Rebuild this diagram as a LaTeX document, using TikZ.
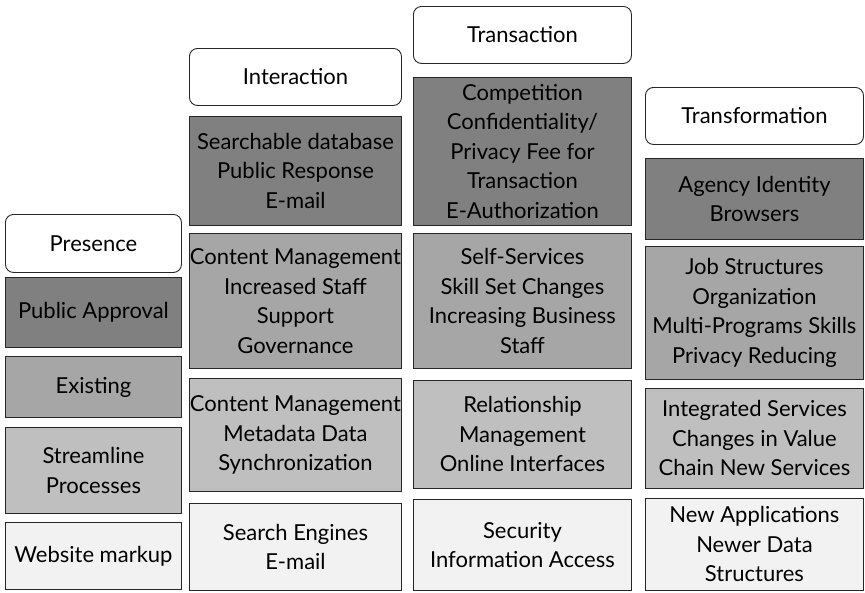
\documentclass[tikz,border=0pt]{standalone}
\usepackage{fontspec}
\setmainfont{Lato}
\usetikzlibrary{positioning}

\definecolor{lvldark}{HTML}{808080}
\definecolor{lvlmid}{HTML}{A6A6A6}
\definecolor{lvllight}{HTML}{BFBFBF}
\definecolor{lvlpale}{HTML}{F2F2F2}

\tikzset{
    stage/.style={draw=black!85, line width=0.9pt, rectangle, anchor=north west,
        inner sep=0pt, align=center, font=\fontsize{22}{29.5}\selectfont},
    head/.style={stage, rounded corners=8pt, fill=white},
    lvlA/.style={stage, fill=lvldark},
    lvlB/.style={stage, fill=lvlmid},
    lvlC/.style={stage, fill=lvllight},
    lvlD/.style={stage, fill=lvlpale}
}

\begin{document}
\begin{tikzpicture}[x=1pt, y=-1pt]
    \useasboundingbox (0,0) rectangle (865,592);

        % Presence
        \node[name=pres_h, head, minimum width=176, minimum height=58] at (5,214) {Presence};
        \node[name=pres_1, lvlA, minimum width=176, minimum height=70] at (5,277) {Public Approval};
        \node[name=pres_2, lvlB, minimum width=176, minimum height=61] at (5,356) {Existing};
        \node[name=pres_3, lvlC, minimum width=176, minimum height=86] at (5,427) {Streamline\\Processes};
        \node[name=pres_4, lvlD, minimum width=176, minimum height=67] at (5,522) {Website markup};

        % Interaction
        \node[name=inter_h, head, minimum width=212, minimum height=57] at (189,48) {Interaction};
        \node[name=inter_1, lvlA, minimum width=212, minimum height=109] at (189,116) {Searchable database\\Public Response\\E-mail};
        \node[name=inter_2, lvlB, minimum width=212, minimum height=135] at (189,233) {Content Management\\Increased Staff\\Support\\Governance};
        \node[name=inter_3, lvlC, minimum width=212, minimum height=113] at (189,378) {Content Management\\Metadata Data\\Synchronization};
        \node[name=inter_4, lvlD, minimum width=212, minimum height=87] at (189,503) {Search Engines\\E-mail};

        % Transaction
        \node[name=trans_h, head, minimum width=218, minimum height=57] at (413,6) {Transaction};
        \node[name=trans_1, lvlA, minimum width=218, minimum height=148] at (413,77) {Competition\\Confidentiality/\\Privacy Fee for\\Transaction\\E-Authorization};
        \node[name=trans_2, lvlB, minimum width=218, minimum height=135] at (413,233) {Self-Services\\Skill Set Changes\\Increasing Business\\Staff};
        \node[name=trans_3, lvlC, minimum width=218, minimum height=108] at (413,380) {Relationship\\Management\\Online Interfaces};
        \node[name=trans_4, lvlD, minimum width=218, minimum height=91] at (413,499) {Security\\Information Access};

        % Transformation
        \node[name=trfm_h, head, minimum width=218, minimum height=57] at (645,87) {Transformation};
        \node[name=trfm_1, lvlA, minimum width=218, minimum height=81] at (645,158) {Agency Identity\\Browsers};
        \node[name=trfm_2, lvlB, minimum width=218, minimum height=133] at (645,246) {Job Structures\\Organization\\Multi-Programs Skills\\Privacy Reducing};
        \node[name=trfm_3, lvlC, minimum width=218, minimum height=100] at (645,388) {Integrated Services\\Changes in Value\\Chain New Services};
        \node[name=trfm_4, lvlD, minimum width=218, minimum height=92] at (645,498) {New Applications\\Newer Data\\Structures};
    \end{tikzpicture}
\end{document}
